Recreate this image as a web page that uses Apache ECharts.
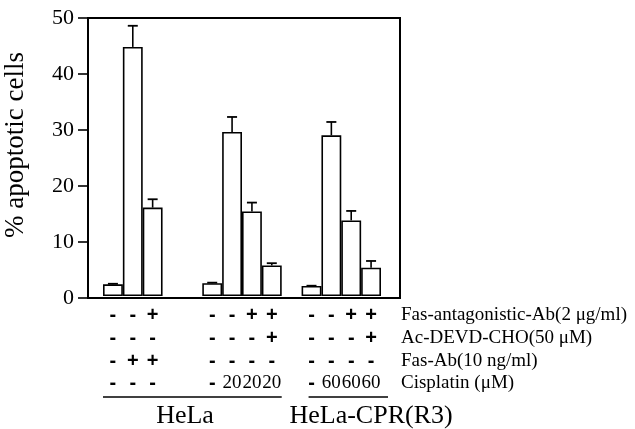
<!DOCTYPE html>
<html><head><meta charset="utf-8">
<script src="https://cdn.jsdelivr.net/npm/echarts@6/dist/echarts.min.js"></script>
<style>html,body{margin:0;padding:0;background:#fff}#c{width:635px;height:429px}</style>
</head><body><div id="c"></div>
<script>
// ---- data ----
const slots = ['HeLa ctrl','HeLa Fas-Ab','HeLa Fas-Ab+antag','','',
  'HeLa ctrl 2','HeLa cis20','HeLa cis20+antag','HeLa cis20+antag+DEVD','',
  'CPR ctrl','CPR cis60','CPR cis60+antag','CPR cis60+antag+DEVD'];
const apoptosis = [2.1, 44.8, 15.9, null, null, 2.3, 29.5, 15.2, 5.5, null, 1.8, 28.9, 13.6, 5.1];
const errorUp   = [0.1, 3.8, 1.5, null, null, 0.1, 2.7, 1.6, 0.4, null, 0.05, 2.4, 1.7, 1.2];
const rowAntag  = ['-','-','+','','','-','-','+','+','','-','-','+','+'];
const rowDevd   = ['-','-','-','','','-','-','-','+','','-','-','-','+'];
const rowFasAb  = ['-','+','+','','','-','-','-','-','','-','-','-','-'];
const rowCis    = ['-','-','-','','','-','20','20','20','','-','60','60','60'];
const rowNames  = ['Fas-antagonistic-Ab(2 \u03bcg/ml)','Ac-DEVD-CHO(50 \u03bcM)','Fas-Ab(10 ng/ml)','Cisplatin (\u03bcM)'];
const groupLabels = ['','','','HeLa','','','','','','','','','','HeLa-CPR(R3)'];
const groupSpans = [[0,8],[10,13]];
const yTicks = {min:0, max:50, interval:10};
const yName = '% apoptotic cells';

// ---- chart ----
const SERIF = '"Liberation Serif","Times New Roman",serif';
const chart = echarts.init(document.getElementById('c'), null, {renderer:'canvas'});
const rows = [rowAntag, rowDevd, rowFasAb, rowCis];
const rowOffsets = [19, 42, 65, 87];
const rowAxes = rows.map((r,i)=>({
  type:'category', gridIndex:1, data:r, position:'bottom', offset:rowOffsets[i],
  axisLine:{show:false}, axisTick:{show:false}, splitLine:{show:false},
  axisLabel:{interval:0, margin:0, verticalAlign:'middle', color:'#000',
    formatter: v => v==='' ? '' : ((v==='+'||v==='-') ? '{pm|'+v+'}' : '{num|'+v+'}'),
    rich:{pm:{fontFamily:'"Liberation Sans",Arial,sans-serif', fontWeight:'bold', fontSize:20, color:'#000'},
          num:{fontFamily:SERIF, fontSize:19, color:'#000'}}},
  name: rowNames[i], nameLocation:'end', nameGap:20,
  nameTextStyle:{fontFamily:SERIF, fontSize:19, color:'#000', align:'left', verticalAlign:'middle', padding:[0,0,0,0]}
}));

const option = {
  animation:false,
  backgroundColor:'#fff',
  grid:[
    {left:88, top:18, width:312, height:280, show:true, borderColor:'#000', borderWidth:2, backgroundColor:'transparent'},
    {left:103, top:18, width:278, height:280}
  ],
  xAxis:[
    {type:'value', gridIndex:0, show:false, min:0, max:1},
    {type:'category', gridIndex:1, data:slots, show:false},
    ...rowAxes,
    {type:'category', gridIndex:1, data:groupLabels, position:'bottom', offset:120,
     axisLine:{show:false}, axisTick:{show:false},
     axisLabel:{interval:0, margin:0, verticalAlign:'middle', color:'#000',
       formatter: v => v==='' ? '' : (v==='HeLa' ? '{a|'+v+'}' : '{b|'+v+'}'),
       rich:{a:{fontFamily:SERIF, fontSize:26, color:'#000', padding:[0,0,0,25]},
             b:{fontFamily:SERIF, fontSize:26, color:'#000'}}}}
  ],
  yAxis:[
    {type:'value', gridIndex:0, min:yTicks.min, max:yTicks.max, interval:yTicks.interval,
     axisLine:{show:true, lineStyle:{color:'#000', width:2}},
     axisTick:{show:true, inside:false, length:10, lineStyle:{color:'#000', width:1.6}},
     axisLabel:{margin:14, fontFamily:SERIF, fontSize:22, color:'#000'},
     splitLine:{show:false},
     name:yName, nameLocation:'middle', nameGap:59,
     nameTextStyle:{fontFamily:SERIF, fontSize:27, color:'#000', padding:[0,0,0,26]}},
    {type:'value', gridIndex:1, min:yTicks.min, max:yTicks.max, show:false}
  ],
  series:[
    {type:'bar', xAxisIndex:1, yAxisIndex:1, data:apoptosis, barWidth:'100%',
     itemStyle:{color:'#fff', borderColor:'#000', borderWidth:1.6}, z:3},
    {type:'custom', xAxisIndex:1, yAxisIndex:1, z:4,
     data: apoptosis.map((v,i)=> v==null ? null : [i, v, errorUp[i]]).filter(d=>d),
     encode:{x:0, y:1},
     renderItem:(params, api)=>{
       const x = api.value(0), v = api.value(1), e = api.value(2);
       const b = api.coord([x, v]), t = api.coord([x, v+e]);
       return {type:'group', children:[
         {type:'line', shape:{x1:b[0], y1:b[1], x2:t[0], y2:t[1]}, style:{stroke:'#000', lineWidth:1.6}},
         {type:'line', shape:{x1:t[0]-5, y1:t[1], x2:t[0]+5, y2:t[1]}, style:{stroke:'#000', lineWidth:1.8}}
       ]};
     }}
  ]
};
chart.setOption(option);

// underlines beneath the group labels, placed from the category scale
const px = i => chart.convertToPixel({xAxisIndex:1}, i);
const band = px(1) - px(0);
const underlineShift = [0, 7];
chart.setOption({graphic: groupSpans.map((s,k)=>({
  type:'line', silent:true,
  shape:{x1:px(s[0])-band/2+underlineShift[k], y1:397, x2:px(s[1])+band/2+underlineShift[k], y2:397},
  style:{stroke:'#000', lineWidth:1.6}
}))});
</script>
</body></html>
